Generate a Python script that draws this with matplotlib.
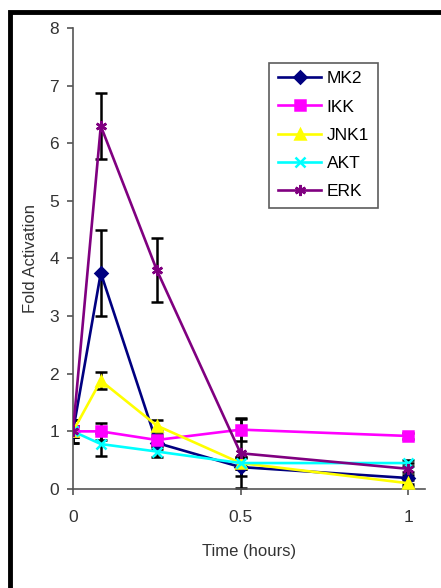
import numpy as np
import matplotlib
matplotlib.use('Agg')
import matplotlib.pyplot as plt

plt.rcParams['font.family'] = ['Liberation Sans', 'DejaVu Sans']

# time points (hours)
time = [0, 0.083, 0.25, 0.5, 1]

# fold activation per kinase, with error bar half-widths
mk2 = [1.0, 3.75, 0.8, 0.38, 0.19]
mk2_err = [0.2, 0.75, 0.1, 0.15, 0.1]
ikk = [1.0, 1.0, 0.85, 1.03, 0.92]
ikk_err = [0.1, 0.15, 0.1, 0.2, 0.05]
jnk1 = [1.0, 1.88, 1.1, 0.45, 0.1]
jnk1_err = [0.1, 0.15, 0.1, 0.1, 0.05]
akt = [1.0, 0.78, 0.65, 0.45, 0.45]
akt_err = [0.1, 0.2, 0.1, 0.1, 0.05]
erk = [1.0, 6.3, 3.8, 0.62, 0.35]
erk_err = [0.2, 0.58, 0.55, 0.6, 0.1]

series = [
    ('MK2', mk2, mk2_err, '#000080', 'D', 6),
    ('IKK', ikk, ikk_err, '#ff00ff', 's', 7),
    ('JNK1', jnk1, jnk1_err, '#ffff00', '^', 7),
    ('AKT', akt, akt_err, '#00ffff', 'x', 7),
    ('ERK', erk, erk_err, '#800080', (6, 2, 0), 8),
]

fig = plt.figure(figsize=(4.41, 5.88), dpi=100)
ax = fig.add_axes([0.1655, 0.1684, 0.798, 0.784])

for name, vals, err, col, mk, ms in series:
    ax.errorbar(time, vals, yerr=err, fmt='none', ecolor='black',
                elinewidth=1.8, capsize=4, capthick=1.8, zorder=2)
    ax.plot(time, vals, color=col, marker=mk, markersize=ms, linewidth=1.9,
            markeredgewidth=1.8, label=name, zorder=3)

ax.set_xlim(0, 1.05)
ax.set_ylim(0, 8)
ax.set_xticks([0, 0.5, 1])
ax.set_xticklabels(['0', '0.5', '1'])
ax.set_yticks(range(0, 9))
ax.spines['top'].set_visible(False)
ax.spines['right'].set_visible(False)
for s in ['left', 'bottom']:
    ax.spines[s].set_color('#555555')
    ax.spines[s].set_linewidth(1.2)
ax.tick_params(axis='both', colors='#555555', labelcolor='#333333',
               labelsize=12.5, length=4, width=1.2)
ax.tick_params(axis='x', pad=11)
ax.tick_params(axis='y', pad=6)

ax.set_xlabel('Time (hours)', fontsize=12, color='#333333', labelpad=14)
ax.set_ylabel('Fold Activation', fontsize=12, color='#333333', labelpad=8)

leg = ax.legend(loc='upper left', bbox_to_anchor=(0.558, 0.925), fontsize=12.5,
                frameon=True, fancybox=False, handlelength=2.5,
                labelspacing=0.75, borderpad=0.5, handletextpad=0.3,
                borderaxespad=0)
leg.get_frame().set_edgecolor('#333333')
leg.get_frame().set_linewidth(1.2)

# outer black frame of the original figure
frame = plt.Rectangle((10 / 441, -0.05), 1.1, 1 - 12 / 588 + 0.05,
                      transform=fig.transFigure, fill=False,
                      edgecolor='black', linewidth=3.5, clip_on=False)
fig.patches.append(frame)

fig.savefig('out.png', dpi=100)
